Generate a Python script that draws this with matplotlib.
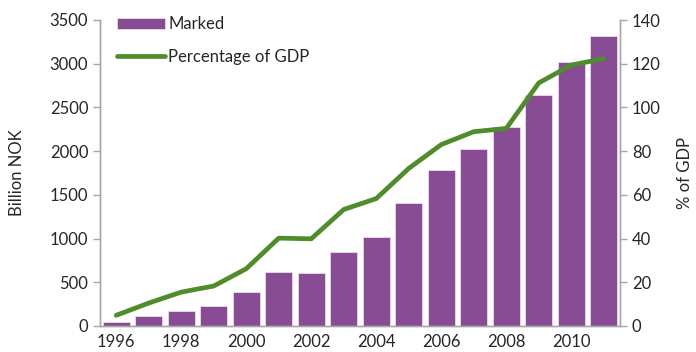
import matplotlib
matplotlib.use("Agg")
import matplotlib.pyplot as plt
import numpy as np

years = list(range(1996, 2012))
marked = [48, 115, 172, 225, 389, 618, 610, 846, 1018, 1403, 1788, 2021, 2277, 2643, 3024, 3318]
pct_gdp = [4.9, 10.5, 15.5, 18.3, 26.2, 40.2, 39.9, 53.3, 58.3, 72.1, 83.0, 88.9, 90.4, 111.2, 119.4, 122.3]
xtick_years = [1996, 1998, 2000, 2002, 2004, 2006, 2008, 2010]

purple = "#874C94"
green = "#4F8C2A"
spine_col = "#A6A6A6"
text_col = "#262626"

plt.rcParams["font.family"] = ["Lato", "DejaVu Sans"]
plt.rcParams["font.size"] = 12

fig = plt.figure(figsize=(6.96, 3.52), dpi=100)
ax = fig.add_axes([100/696, 1-326/352, 520/696, 306/352])
ax2 = ax.twinx()

x = np.arange(len(years))
bars = ax.bar(x, marked, width=0.82, color=purple, edgecolor="#E8DDEA", linewidth=0.6, label="Marked", zorder=2)
line, = ax2.plot(x, pct_gdp, color=green, linewidth=3.4, solid_capstyle="round", label="Percentage of GDP", zorder=3)

ax.set_xlim(-0.5, len(years) - 0.5)
ax.set_ylim(0, 3500)
ax.set_yticks(np.arange(0, 3501, 500))
ax2.set_ylim(0, 140)
ax2.set_yticks(np.arange(0, 141, 20))
ax.set_xticks([years.index(y) for y in xtick_years])
ax.set_xticklabels([str(y) for y in xtick_years])

for a in (ax, ax2):
    a.spines["top"].set_visible(False)
    for s in ("left", "right", "bottom"):
        a.spines[s].set_color(spine_col)
        a.spines[s].set_linewidth(1.0)
    a.tick_params(axis="y", colors=spine_col, labelcolor=text_col, length=5, width=1.0)
    a.tick_params(axis="x", length=0, labelcolor=text_col, pad=6)

ax.set_ylabel("Billion NOK", color=text_col)
ax.yaxis.set_label_coords(-0.144, 0.5)
ax2.set_ylabel("% of GDP", color=text_col, rotation=90)
ax2.yaxis.set_label_coords(1.11, 0.5)

leg = ax.legend([bars, line], ["Marked", "Percentage of GDP"], loc="upper left",
                bbox_to_anchor=(0.032, 1.012), frameon=False, handlelength=2.9,
                handletextpad=0.2, labelspacing=1.0, borderaxespad=0.0, borderpad=0.0)
for t in leg.get_texts():
    t.set_color(text_col)

fig.savefig("out.png", dpi=100)
